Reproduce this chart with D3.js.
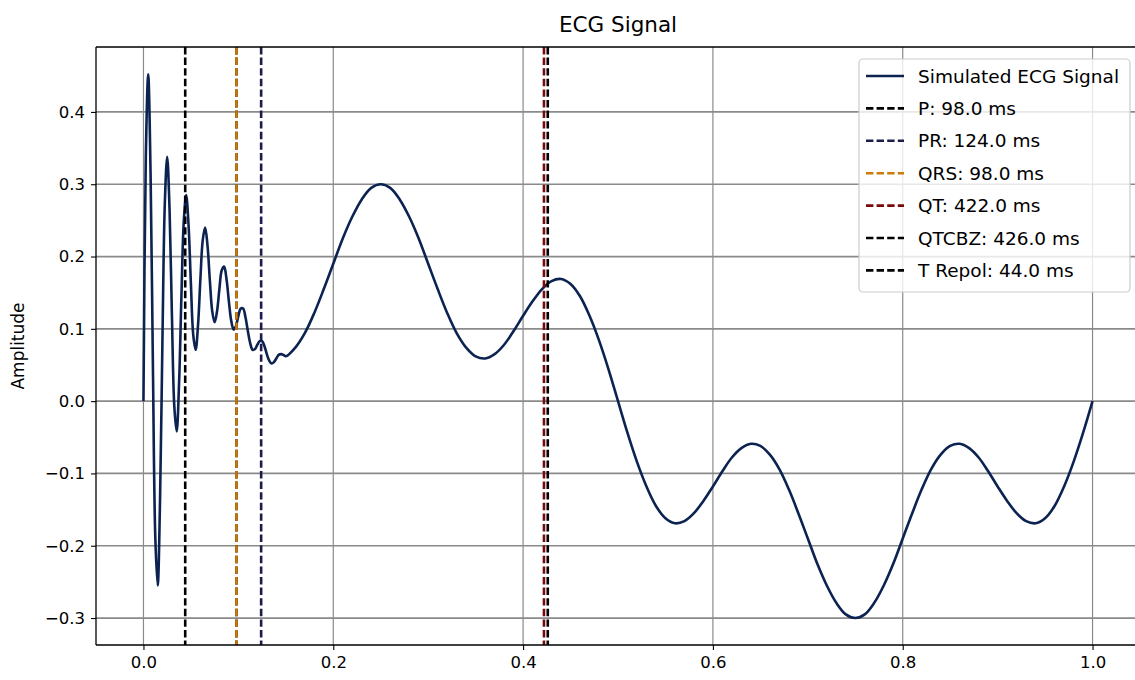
<!DOCTYPE html>
<html>
<head>
<meta charset="utf-8">
<script src="https://cdn.jsdelivr.net/npm/d3@7"></script>
<style>
  body { margin: 0; background: #ffffff; }
  svg { display: block; font-family: "DejaVu Sans", "Liberation Sans", sans-serif; }
</style>
</head>
<body>
<svg id="chart" width="1135" height="680"></svg>
<script>
// Simulated ECG trace: dense samples during the initial ringing, coarser afterwards
const timeEarly = [
  0.0000, 0.0025, 0.0050, 0.0075, 0.0100, 0.0125, 0.0150, 0.0175, 0.0200, 0.0225,
  0.0250, 0.0275, 0.0300, 0.0325, 0.0350, 0.0375, 0.0400, 0.0425, 0.0450, 0.0475,
  0.0500, 0.0525, 0.0550, 0.0575, 0.0600, 0.0625, 0.0650, 0.0675, 0.0700, 0.0725,
  0.0750, 0.0775, 0.0800, 0.0825, 0.0850, 0.0875, 0.0900, 0.0925, 0.0950, 0.0975,
  0.1000, 0.1025, 0.1050, 0.1075, 0.1100, 0.1125, 0.1150, 0.1175, 0.1200, 0.1225,
  0.1250, 0.1275, 0.1300, 0.1325, 0.1350, 0.1375, 0.1400, 0.1425, 0.1450, 0.1475,
  0.1500
];
const ampEarly = [
  0.000, 0.339, 0.452, 0.315, 0.044, -0.189, -0.255, -0.135, 0.084, 0.273,
  0.338, 0.265, 0.118, -0.007, -0.042, 0.024, 0.145, 0.249, 0.285, 0.244,
  0.162, 0.091, 0.071, 0.105, 0.169, 0.223, 0.240, 0.215, 0.166, 0.124,
  0.109, 0.124, 0.155, 0.181, 0.186, 0.169, 0.138, 0.111, 0.099, 0.104,
  0.118, 0.128, 0.128, 0.116, 0.097, 0.080, 0.071, 0.072, 0.078, 0.083,
  0.083, 0.076, 0.065, 0.056, 0.052, 0.054, 0.059, 0.064, 0.065, 0.064,
  0.062
];
const timeLate = [
  0.16, 0.17, 0.18, 0.19, 0.20, 0.21, 0.22, 0.23, 0.24, 0.25,
  0.26, 0.27, 0.28, 0.29, 0.30, 0.31, 0.32, 0.33, 0.34, 0.35,
  0.36, 0.37, 0.38, 0.39, 0.40, 0.41, 0.42, 0.43, 0.44, 0.45,
  0.46, 0.47, 0.48, 0.49, 0.50, 0.51, 0.52, 0.53, 0.54, 0.55,
  0.56, 0.57, 0.58, 0.59, 0.60, 0.61, 0.62, 0.63, 0.64, 0.65,
  0.66, 0.67, 0.68, 0.69, 0.70, 0.71, 0.72, 0.73, 0.74, 0.75,
  0.76, 0.77, 0.78, 0.79, 0.80, 0.81, 0.82, 0.83, 0.84, 0.85,
  0.86, 0.87, 0.88, 0.89, 0.90, 0.91, 0.92, 0.93, 0.94, 0.95,
  0.96, 0.97, 0.98, 0.99, 1.00
];
const ampLate = [
  0.074, 0.094, 0.122, 0.155, 0.190, 0.225, 0.255, 0.279, 0.295, 0.300,
  0.295, 0.279, 0.255, 0.225, 0.190, 0.155, 0.122, 0.094, 0.074, 0.062,
  0.059, 0.065, 0.078, 0.097, 0.118, 0.138, 0.155, 0.166, 0.169, 0.162,
  0.145, 0.118, 0.084, 0.044, 0.000, -0.044, -0.084, -0.118, -0.145, -0.162,
  -0.169, -0.166, -0.155, -0.138, -0.118, -0.097, -0.078, -0.065, -0.059, -0.062,
  -0.074, -0.094, -0.122, -0.155, -0.190, -0.225, -0.255, -0.279, -0.295, -0.300,
  -0.295, -0.279, -0.255, -0.225, -0.190, -0.155, -0.122, -0.094, -0.074, -0.062,
  -0.059, -0.065, -0.078, -0.097, -0.118, -0.138, -0.155, -0.166, -0.169, -0.162,
  -0.145, -0.118, -0.084, -0.044, 0.000
];

// Interval markers (milliseconds), drawn as dashed vertical lines
const markerNames  = ["P", "PR", "QRS", "QT", "QTCBZ", "T Repol"];
const markerMs     = [98.0, 124.0, 98.0, 422.0, 426.0, 44.0];
const markerColors = ["#000000", "#1c1c4a", "#cc7a0a", "#7a0a0a", "#000000", "#000000"];

const xTicks = [0.0, 0.2, 0.4, 0.6, 0.8, 1.0];
const yTicks = [-0.3, -0.2, -0.1, 0.0, 0.1, 0.2, 0.3, 0.4];

const signalColor = "#0c2352";
const gridColor = "#8a8a8a";

const svg = d3.select("#chart");
const plotLeft = 96, plotRight = 1140, plotTop = 47, plotBottom = 645;

const x = d3.scaleLinear().domain([-0.05, 1.05]).range([plotLeft, plotRight]);
const y = d3.scaleLinear().domain([-0.3373, 0.4898]).range([plotBottom, plotTop]);

svg.append("defs").append("clipPath").attr("id", "plot-area")
  .append("rect").attr("x", plotLeft).attr("y", plotTop)
  .attr("width", plotRight - plotLeft).attr("height", plotBottom - plotTop);

// grid
const grid = svg.append("g");
grid.selectAll("line.gx").data(xTicks).join("line").attr("class", "gx")
  .attr("x1", d => x(d)).attr("x2", d => x(d))
  .attr("y1", plotTop).attr("y2", plotBottom)
  .attr("stroke", gridColor).attr("stroke-width", 1.2);
grid.selectAll("line.gy").data(yTicks).join("line").attr("class", "gy")
  .attr("x1", plotLeft).attr("x2", plotRight)
  .attr("y1", d => y(d)).attr("y2", d => y(d))
  .attr("stroke", gridColor).attr("stroke-width", 1.7);

// signal
const points = timeEarly.map((t, i) => [t, ampEarly[i]])
  .concat(timeLate.map((t, i) => [t, ampLate[i]]));
const line = d3.line()
  .x(d => x(d[0])).y(d => y(d[1]))
  .curve(d3.curveCatmullRom.alpha(0.5));
svg.append("path").datum(points)
  .attr("clip-path", "url(#plot-area)")
  .attr("d", line)
  .attr("fill", "none")
  .attr("stroke", signalColor)
  .attr("stroke-width", 2.6)
  .attr("stroke-linejoin", "round");

// interval markers
svg.append("g").attr("clip-path", "url(#plot-area)")
  .selectAll("line").data(markerMs).join("line")
  .attr("x1", d => x(d / 1000)).attr("x2", d => x(d / 1000))
  .attr("y1", plotTop).attr("y2", plotBottom)
  .attr("stroke", (d, i) => markerColors[i])
  .attr("stroke-width", 2.6)
  .attr("stroke-dasharray", "7.4,3.2");

// axes
const fmt = d3.format(".1f");
const xAxis = svg.append("g").attr("transform", `translate(0,${plotBottom})`)
  .call(d3.axisBottom(x).tickValues(xTicks).tickFormat(fmt).tickSize(5).tickSizeOuter(0).tickPadding(6));
const yAxis = svg.append("g").attr("transform", `translate(${plotLeft},0)`)
  .call(d3.axisLeft(y).tickValues(yTicks).tickFormat(fmt).tickSize(5).tickSizeOuter(0).tickPadding(6));
[xAxis, yAxis].forEach(a => {
  a.select(".domain").remove();
  a.selectAll(".tick line").attr("stroke", "#000").attr("stroke-width", 1.1);
  a.selectAll(".tick text").attr("fill", "#000").style("font-size", "16.5px")
    .style("font-family", "'DejaVu Sans', sans-serif");
});

// spines
const spines = svg.append("g").attr("stroke", "#000").attr("stroke-width", 1.3);
spines.append("line").attr("x1", plotLeft).attr("x2", plotLeft).attr("y1", plotTop).attr("y2", plotBottom);
spines.append("line").attr("x1", plotLeft).attr("x2", plotRight).attr("y1", plotBottom).attr("y2", plotBottom);
spines.append("line").attr("x1", plotLeft).attr("x2", plotRight).attr("y1", plotTop).attr("y2", plotTop);
spines.append("line").attr("x1", plotRight).attr("x2", plotRight).attr("y1", plotTop).attr("y2", plotBottom);

// title and axis label
svg.append("text").attr("x", (plotLeft + plotRight) / 2).attr("y", 32)
  .attr("text-anchor", "middle").style("font-size", "21.5px").attr("fill", "#000")
  .text("ECG Signal");
svg.append("text")
  .attr("transform", `translate(24,${(plotTop + plotBottom) / 2}) rotate(-90)`)
  .attr("text-anchor", "middle").style("font-size", "17px").attr("fill", "#000")
  .text("Amplitude");

// legend
const legendLabels = ["Simulated ECG Signal"].concat(markerNames.map((n, i) => `${n}: ${fmt(markerMs[i])} ms`));
const legendColors = [signalColor].concat(markerColors);
const lg = svg.append("g");
lg.append("rect").attr("x", 859).attr("y", 59).attr("width", 271).attr("height", 233)
  .attr("rx", 4).attr("fill", "#ffffff").attr("fill-opacity", 0.8)
  .attr("stroke", "#cccccc").attr("stroke-width", 1.2);
const rowY = i => 76 + i * 32.4;
legendLabels.forEach((lab, i) => {
  lg.append("line").attr("x1", 866).attr("x2", 904).attr("y1", rowY(i)).attr("y2", rowY(i))
    .attr("stroke", legendColors[i]).attr("stroke-width", 2.6)
    .attr("stroke-dasharray", i === 0 ? null : "7.4,3.2");
  lg.append("text").attr("x", 918).attr("y", rowY(i)).attr("dy", "0.36em")
    .style("font-size", "18.5px").attr("fill", "#000").text(lab);
});
</script>
</body>
</html>
